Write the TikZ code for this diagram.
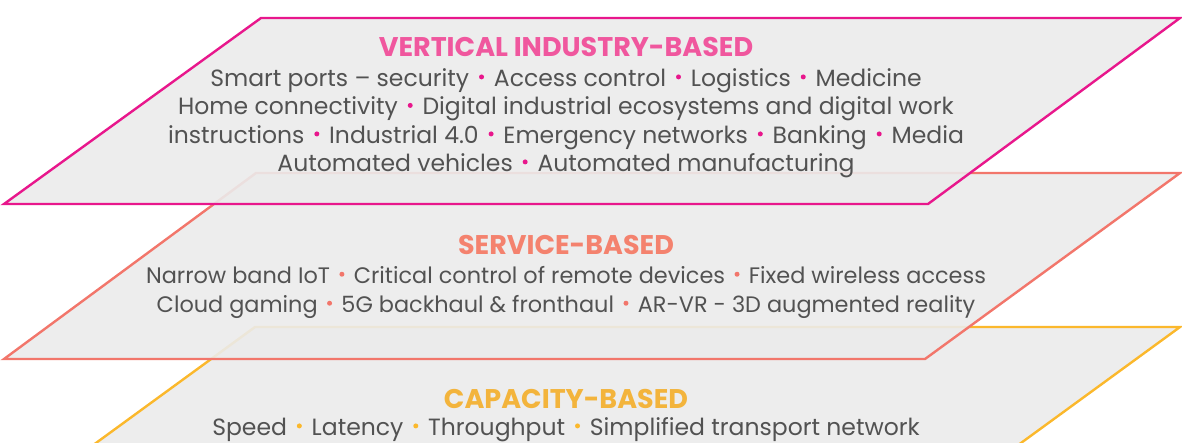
\documentclass[tikz,border=0pt]{standalone}
\usepackage{fontspec}
\setmainfont{Poppins}
\definecolor{pinkL}{HTML}{E8178C}
\definecolor{pinkT}{HTML}{F0579E}
\definecolor{salL}{HTML}{F2766B}
\definecolor{salT}{HTML}{F4826E}
\definecolor{yelL}{HTML}{FBB82C}
\definecolor{yelT}{HTML}{F3B43C}
\definecolor{layerfill}{HTML}{EBEBEB}
\definecolor{txt}{HTML}{525252}
\newcommand{\bul}[1]{\hspace{0.42em}\textcolor{#1}{\raisebox{0.28em}{\tikz\fill (0,0) circle (2.5pt);}}\hspace{0.42em}}
\tikzset{
  layer/.style={draw=#1, line width=2.4pt, fill=layerfill, fill opacity=0.9, line join=miter},
  ttl/.style={text=#1, font=\fontsize{27}{27}\selectfont\bfseries, inner sep=0pt, anchor=base},
  body/.style={text=txt, font=\fontsize{23.5}{23.5}\selectfont, inner sep=0pt, anchor=base},
  bodyS/.style={body, font=\fontsize{22.4}{22.4}\selectfont}
}
\begin{document}
\begin{tikzpicture}[x=1pt,y=-1pt]
\useasboundingbox (0,0) rectangle (1182,442);
\clip (0,0) rectangle (1182,442);
% capacity layer
\draw[layer=yelL] (255,327) -- (1180,327) -- (925,513) -- (0,513) -- cycle;
\node[ttl=yelT] (capT) at (566,408) {CAPACITY-BASED};
\node[body] (cap1) at (566,435) {Speed\bul{yelL}Latency\bul{yelL}Throughput\bul{yelL}Simplified transport network};
% service layer
\draw[layer=salL] (256,173) -- (1180,173) -- (925,359) -- (4,359) -- cycle;
\node[ttl=salT] (serT) at (566,254) {SERVICE-BASED};
\node[bodyS] (ser1) at (566,283) {Narrow band IoT\bul{salL}Critical control of remote devices\bul{salL}Fixed wireless access};
\node[bodyS] (ser2) at (566,312) {Cloud gaming\bul{salL}5G backhaul \& fronthaul\bul{salL}AR-VR - 3D augmented reality};
% vertical layer
\draw[layer=pinkL] (261,18) -- (1180,18) -- (928,204) -- (4,204) -- cycle;
\node[ttl=pinkT] (verT) at (566,56) {VERTICAL INDUSTRY-BASED};
\node[body] (ver1) at (566,86) {Smart ports – security\bul{pinkL}Access control\bul{pinkL}Logistics\bul{pinkL}Medicine};
\node[body] (ver2) at (566,114.5) {Home connectivity\bul{pinkL}Digital industrial ecosystems and digital work};
\node[body] (ver3) at (566,143) {instructions\bul{pinkL}Industrial 4.0\bul{pinkL}Emergency networks\bul{pinkL}Banking\bul{pinkL}Media};
\node[body] (ver4) at (566,171) {Automated vehicles\bul{pinkL}Automated manufacturing};
\end{tikzpicture}
\end{document}
